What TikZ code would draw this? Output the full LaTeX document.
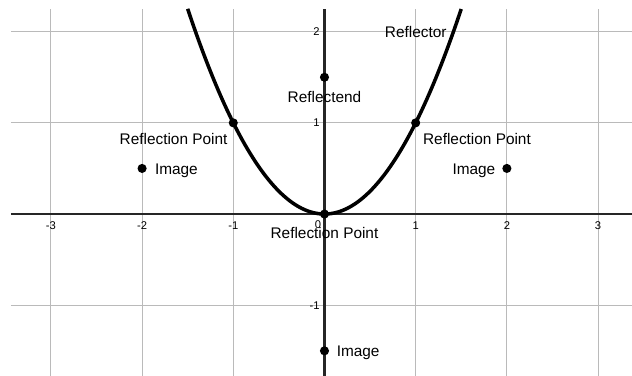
\documentclass[tikz,border=0pt]{standalone}
\usepackage{fontspec}
\setmainfont{Liberation Sans}
\usetikzlibrary{positioning}

\begin{document}
\begin{tikzpicture}[
		x=2cm, y=2cm,
		gridline/.style={draw=black!27, line width=0.7pt},
		axisline/.style={draw=black!85, line width=1.4pt},
		curve/.style={draw=black, line width=2.2pt},
		dot/.style={circle, fill=black, inner sep=0pt, minimum size=0.2cm},
		lbl/.style={inner sep=0pt, font=\fontsize{9.6}{11}\selectfont},
		imglbl/.style={lbl, yshift=-0.05cm},
		tick/.style={inner sep=0pt, font=\fontsize{7}{8}\selectfont},
		]
		\useasboundingbox (-3.558,-1.771) rectangle (3.372,2.347);
		% grid
		\foreach \x in {-3,-2,-1,1,2,3}
			\draw[gridline] (\x,-1.771) -- (\x,2.249);
		\foreach \y in {-1,1,2}
			\draw[gridline] (-3.438,\y) -- (3.372,\y);
		% axes
		\draw[axisline] (-3.438,0) -- (3.372,0);
		\draw[axisline] (0,-1.771) -- (0,2.249);
		% tick labels
		\foreach \x [count=\i] in {-3,-2,-1,1,2,3}
			\node[tick] (xt\i) at (\x,-0.123) {\x};
		\node[tick] (xt0) at (-0.07,-0.12) {0};
		\foreach \y [count=\i] in {-1,1,2}
			\node[tick, anchor=east] (yt\i) at (-0.05,\y) {\y};
		% reflector
		\draw[curve] plot[domain=-1.5:1.5, samples=61, smooth, variable=\t] (\t,{\t*\t});
		\node[lbl] (reflector) at (1,2) {Reflector};
		% points
		\node[dot] (reflectend) at (0,1.5) {};
		\node[dot] (rpL) at (-1,1) {};
		\node[dot] (rpR) at (1,1) {};
		\node[dot] (rpO) at (0,0) {};
		\node[dot] (imgL) at (-2,0.5) {};
		\node[dot] (imgR) at (2,0.5) {};
		\node[dot] (imgB) at (0,-1.5) {};
		% labels
		\node[lbl, below=0.185cm of reflectend] (reflectendlbl) {Reflectend};
		\node[lbl, below left=0.14cm and 0.046cm of rpL] (rpLlbl) {Reflection Point};
		\node[lbl, below right=0.14cm and 0.08cm of rpR] (rpRlbl) {Reflection Point};
		\node[lbl, below=0.17cm of rpO] (rpOlbl) {Reflection Point};
		\node[imglbl, right=0.17cm of imgL] (imgLlbl) {Image};
		\node[imglbl, left=0.14cm of imgR] (imgRlbl) {Image};
		\node[imglbl, right=0.155cm of imgB] (imgBlbl) {Image};
	\end{tikzpicture}
\end{document}
